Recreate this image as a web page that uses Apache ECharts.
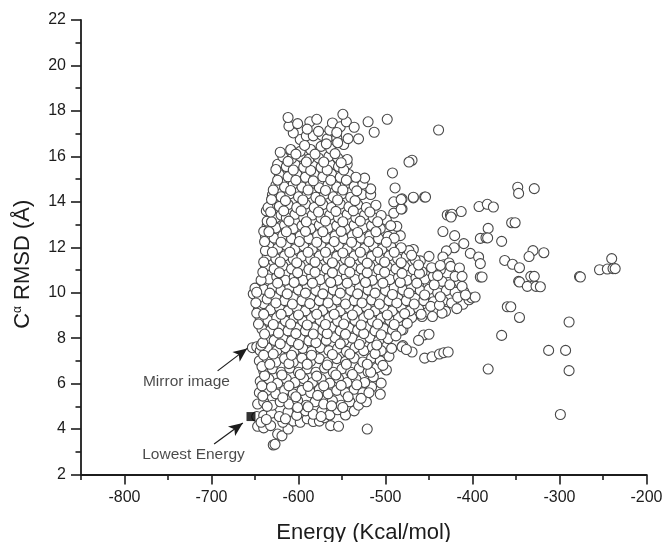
<!DOCTYPE html>
<html><head><meta charset="utf-8">
<style>html,body{margin:0;padding:0;background:#fff}#c{width:665px;height:542px}</style>
<script src="https://cdn.jsdelivr.net/npm/echarts@6/dist/echarts.min.js"></script></head>
<body><div id="c"></div>
<script>
const xMajor=[-800,-700,-600,-500,-400,-300,-200];
const xMinor=[-850,-750,-650,-550,-450,-350,-250];
const yTicks=[2,4,6,8,10,12,14,16,18,20,22];
const lowestEnergy=[[-654.6,4.55]];
// flat lists: energy, rmsd, energy, rmsd ...
const bodyLow=[-629,3.3,-627,3.33,-624,3.78,-619,3.7,-647,4.12,-640,4.05,-632,4.15,-612,4,-618,4.3,-606,4.35,-598,4.3,-590,4.45,-583,4.33,-576,4.35,-570,4.5,-563,4.15,-554,4.12,-521,4,
-648,4.55,-640,4.6,-631,4.7,-622,4.55,-612,4.75,-602,4.6,-592,4.8,-583,4.65,-573,4.8,-564,4.62,-555,4.85,-546,4.62,-536,4.8,
-647,5.1,-640,5.2,-630,5.05,-621,5.2,-611,5.1,-601,5.25,-591,5.05,-581,5.2,-571,5.1,-561,5.25,-551,5.05,-541,5.2,-531,5.05,-522,5.2,-506,5.53,
-645,5.6,-636,5.7,-626,5.55,-616,5.7,-606,5.55,-596,5.7,-586,5.6,-576,5.75,-566,5.55,-556,5.7,-546,5.6,-536,5.75,-526,5.6,-516,5.85,
-644,6.1,-642,5.9,-634,6.2,-624,6.02,-614,6.2,-604,6.05,-594,6.22,-584,6.05,-574,6.2,-564,6.02,-554,6.22,-544,6.05,-534,6.2,-524,6.05,-514,6.3,-505,6.02,
-640,6.55,-630,6.65,-620,6.5,-610,6.68,-600,6.5,-590,6.65,-580,6.5,-570,6.68,-560,6.5,-550,6.65,-540,6.5,-530,6.68,-520,6.52,-510,6.7,-499,6.6,
-645,7,-636,7.1,-626,6.95,-616,7.1,-606,6.95,-596,7.12,-586,6.98,-576,7.1,-566,6.95,-556,7.1,-546,6.98,-536,7.12,-526,6.95,-516,7.12,-506,7,-496,7.2,
-644,7.45,-636,7.58,-625,7.45,-615,7.58,-605,7.42,-595,7.55,-585,7.42,-575,7.58,-565,7.45,-555,7.55,-545,7.42,-535,7.58,-525,7.45,-515,7.6,-505,7.45,-493,7.55,-481,7.62,-476,7.5,
-637,7.98,-628,7.9,-618,8.02,-608,7.88,-598,8,-588,7.88,-578,8.02,-568,7.9,-558,8.02,-548,7.88,-538,8,-528,7.9,-518,8.02,-508,7.88,-497,7.98,-482,8.35,
-642,8.4,-632,8.35,-622,8.45,-612,8.32,-602,8.45,-592,8.32,-582,8.45,-572,8.35,-562,8.48,-552,8.32,-542,8.45,-532,8.35,-522,8.48,-512,8.32,-502,8.42,-492,8.35,
-644,8.85,-635,8.78,-625,8.9,-615,8.75,-605,8.88,-595,8.75,-585,8.9,-575,8.78,-565,8.9,-555,8.75,-545,8.88,-535,8.78,-525,8.9,-515,8.75,-505,8.88,-495,8.78,-485,8.9,-470,8.9,-458,8.95];
const bodyMid=[-646,9.3,-640,9.52,-632,9.25,-622,9.35,-612,9.2,-602,9.33,-592,9.2,-582,9.35,-572,9.22,-562,9.35,-552,9.2,-542,9.33,-532,9.22,-522,9.35,-512,9.2,-502,9.33,-492,9.2,-482,9.35,-472,9.2,-462,9.3,-451,9.15,-441,9.2,-431,9.18,-435,9.1,
-652,9.95,-645,9.8,-636,9.72,-626,9.78,-616,9.65,-606,9.8,-596,9.65,-586,9.78,-576,9.65,-566,9.8,-556,9.68,-546,9.78,-536,9.65,-526,9.8,-516,9.68,-506,9.78,-496,9.65,-486,9.78,-476,9.65,-466,9.75,-456,9.65,-445,9.6,-434,9.65,-424,9.55,-411,9.49,-404,9.69,-401,9.77,-397,9.81,
-644,10.3,-640,10.15,-630,10.22,-620,10.1,-610,10.25,-600,10.12,-590,10.25,-580,10.1,-570,10.22,-560,10.12,-550,10.25,-540,10.1,-530,10.22,-520,10.12,-510,10.25,-500,10.1,-490,10.22,-480,10.12,-470,10.22,-460,10.1,-450,10.15,-440,10,-430,10.1,-420,10.02,-412,10.28,
-634,10.6,-625,10.7,-615,10.55,-605,10.68,-595,10.55,-585,10.7,-575,10.58,-565,10.68,-555,10.55,-545,10.7,-535,10.58,-525,10.68,-515,10.55,-505,10.7,-495,10.58,-485,10.68,-475,10.55,-465,10.65,-455,10.6,-445,10.72,-435,10.5,-420,10.72,-412,10.72,
-638,11.15,-628,11.05,-618,11.18,-608,11.05,-598,11.18,-588,11.02,-578,11.15,-568,11.05,-558,11.18,-548,11.02,-538,11.15,-528,11.05,-518,11.18,-508,11.02,-498,11.15,-488,11.05,-478,11.15,-468,11.02,-458,10.92,-447,11.1,-437,11.2,
-636,11.6,-626,11.5,-616,11.62,-606,11.48,-596,11.6,-586,11.48,-576,11.62,-566,11.5,-556,11.6,-546,11.48,-536,11.62,-526,11.5,-516,11.6,-506,11.48,-496,11.62,-486,11.5,-476,11.6,-466,11.45,
-634,12.05,-624,11.95,-614,12.08,-604,11.92,-594,12.05,-584,11.92,-574,12.08,-564,11.95,-554,12.05,-544,11.92,-534,12.08,-524,11.95,-514,12.05,-504,11.92,-494,12.05,-483,12.51,-487,12.92,-473,11.85,-482,11.98,
-638,12.5,-628,12.4,-618,12.52,-608,12.38,-598,12.5,-588,12.38,-578,12.52,-568,12.4,-558,12.5,-548,12.38,-538,12.52,-528,12.4,-518,12.5,-508,12.38,-497,12.48,-490,12.4,
-636,12.95,-626,12.85,-616,12.98,-606,12.82,-596,12.95,-586,12.82,-576,12.98,-566,12.85,-556,12.95,-546,12.82,-536,12.98,-526,12.85,-516,12.95,-506,12.82,-499,13.2,-494,12.95];
const bodyHigh=[-634,13.6,-631,13.4,-628,13.72,-626,13.3,-620,13.42,-614,13.3,-604,13.45,-594,13.3,-584,13.42,-574,13.28,-564,13.42,-554,13.3,-544,13.45,-534,13.3,-524,13.42,-514,13.3,-505,13.4,
-632,13.85,-622,13.8,-612,13.88,-602,13.75,-592,13.9,-582,13.75,-572,13.88,-562,13.75,-552,13.9,-542,13.78,-532,13.88,-522,13.75,-511,13.85,-490.5,13.5,-482,13.68,-490.5,14,-482,14.1,
-630,14.3,-620,14.22,-610,14.35,-600,14.22,-590,14.35,-580,14.2,-570,14.33,-560,14.22,-550,14.35,-540,14.2,-527,14.32,-517,14.32,-517,14.57,-489,14.61,-468,14.2,-454,14.21,
-626,14.72,-616,14.65,-606,14.78,-596,14.65,-586,14.78,-576,14.62,-566,14.75,-556,14.65,-546,14.78,-536,14.68,-526,14.78,-524,15.04,-492,15.27,
-622,15.2,-612,15.1,-602,15.22,-592,15.08,-582,15.22,-572,15.1,-562,15.22,-552,15.08,-542,15.2,-534,15.08,
-624,15.65,-614,15.55,-604,15.65,-594,15.52,-584,15.65,-574,15.52,-564,15.65,-554,15.55,-544,15.65,
-618,15.98,-608,15.9,-598,16,-588,15.88,-577,15.93,-565,16,-555,15.93,-544,15.86,
-621,16.18,-609,16.3,-598,16.22,-586,16.3,-574,16.44,-563,16.33,-548,16.52,-598,16.74,-591,16.9,-583,16.9,-573,16.92,-567,16.77,-556,16.81,-543,16.78,-531,16.77,
-606,17.03,-564,17.15,-611,17.33,-601,17.44,-612,17.71,-587,17.52,-579,17.63,-561,17.47,-552,17.3,-545,17.52,-549,17.85,-536,17.28,-520,17.52,-498,17.63,-513,17.06];
// irregular overlapping points drawn over the body
const bodyOverlay=[-643,4.3,-637,4.42,-615,4.45,-601,4.95,-589,4.98,-574,4.55,-549,4.95,-636,5,-618,5.38,-603,5.42,-578,5.48,-562,5.02,-543,5.42,-528,5.35,
-641,5.45,-631,5.85,-611,5.9,-589,5.88,-571,5.9,-551,5.92,-533,5.95,-519,5.6,-639,6.35,-619,6.38,-598,6.4,-579,6.33,-557,6.38,-538,6.4,-517,6.5,
-642,6.75,-633,6.85,-611,6.88,-590,6.85,-567,6.82,-545,6.85,-521,6.85,-503,6.8,-640,7.25,-629,7.3,-608,7.25,-585,7.25,-561,7.28,-541,7.3,-512,7.32,-643,7.68,-641,7.8,-621,7.75,-600,7.72,-580,7.8,-552,7.75,-530,7.72,-510,7.7,
-639,8.18,-623,8.22,-603,8.2,-583,8.18,-567,8.2,-546,8.17,-525,8.2,-505,8.15,-488,8.1,-646,8.62,-629,8.6,-609,8.62,-590,8.58,-569,8.6,-548,8.62,-528,8.58,-509,8.62,-490,8.6,-475,8.65,
-648,9.1,-640,9.05,-620,9.05,-600,9.02,-579,9.05,-559,9.05,-538,9.02,-519,9.05,-498,9.02,-478,9.08,-459,9.05,-446,8.95,-649,9.55,-626,9.55,-607,9.5,-587,9.52,-566,9.55,-546,9.5,-527,9.55,-507,9.5,-487,9.55,-467,9.5,-448,9.4,-438,9.45,-418,9.3,
-650,10.2,-648,10.02,-633,9.98,-613,9.95,-592,9.98,-572,9.95,-552,9.98,-532,9.95,-512,9.98,-492,9.92,-473,9.98,-455,9.9,-437,9.82,-417,9.8,-408,9.9,
-643,10.55,-624,10.42,-605,10.45,-584,10.42,-563,10.45,-544,10.42,-523,10.45,-503,10.42,-483,10.45,-464,10.42,-444,10.35,-426,10.35,
-641,10.9,-622,10.88,-601,10.88,-581,10.9,-561,10.88,-541,10.9,-521,10.88,-501,10.9,-481,10.85,-461,10.85,-440,10.75,-640,11.35,-621,11.35,-602,11.32,-581,11.35,-561,11.32,-541,11.35,-521,11.3,-501,11.35,-482,11.32,-462,11.22,
-638,11.85,-630,11.78,-610,11.78,-589,11.78,-569,11.78,-549,11.75,-529,11.78,-509,11.78,-490,11.78,-470,11.65,-639,12.25,-620,12.22,-599,12.25,-579,12.22,-559,12.25,-539,12.22,-519,12.25,-499,12.22,-640,12.7,-634,12.68,-614,12.68,-592,12.7,-572,12.68,-551,12.7,-532,12.65,-511,12.68,
-636,13.15,-631,13.12,-611,13.15,-591,13.12,-569,13.15,-549,13.12,-529,13.15,-509,13.12,-637,13.6,-635,13.75,-632,13.55,-617,13.6,-597,13.6,-577,13.55,-557,13.58,-537,13.6,-518,13.55,
-631,14.1,-615,14.05,-595,14.08,-575,14.05,-555,14.08,-535,14.05,-629,14.52,-609,14.5,-589,14.52,-569,14.5,-549,14.52,-533,14.48,-624,14.95,-603,14.95,-583,14.92,-563,14.95,-545,14.95,-626,15.42,-606,15.4,-586,15.38,-567,15.4,-548,15.4,-612,15.78,-591,15.75,-571,15.75,-551,15.72,-603,16.1,-581,16.1,-558,16.12,-593,16.48,-568,16.55,-555,16.6,-577,17.1,-556,17.05,-590,17.2];
const sparseA=[-439,17.16,-469.5,15.83,-473,15.75,-468,14.17,-455,14.21,-481,14.13,-481,13.69,-348,14.64,-347,14.37,-329,14.58,-392.5,13.79,-383,13.89,-376,13.77,-413,13.57,-429,13.42,-425.4,13.42,-423.5,13.45,-424.7,13.33,-355,13.08,-351,13.08,-434,12.69,-420.5,12.51,-382,12.83,-391,12.39,-384.5,12.42,-382.6,12.41,-366.5,12.26,-410,12.16,-421,11.98,-430,11.84,-402.5,11.73,-393,11.57,-391,11.28,-434,11.57,-433,11.23,-437,11.01,-427,11.31,-425,11.16,-460,11.4,-450,11.6,-468,11.9,-462,10.4,-449,10.9,-428,10.45,-424,10.2,-410,10.05,-415,11.09];
const sparseB=[-330.5,11.85,-318,11.76,-335,11.59,-363,11.42,-354,11.25,-346,11.1,-240,11.5,-254,11.01,-245,11.04,-238.5,11.06,-236,11.06,-277,10.71,-276,10.69,-391,10.69,-389,10.69,-347,10.5,-346,10.47,-333,10.72,-329,10.72,-337,10.28,-327,10.28,-322,10.26,-360,9.38,-356,9.38,-346,8.91,-289,8.71,-366.5,8.12,-312.5,7.46,-293,7.46,-289,6.57,-382,6.64,-299,4.64,-456,8.14,-450,8.17,-462,7.9,-480,8.37,-480,7.67,-469.5,7.39,-455,7.12,-446.5,7.18,-438,7.3,-433,7.36,-428,7.39,-653,7.58,-648,7.62];
const annotationLabels=[{name:'Mirror image',value:[-728.8,6.07]},{name:'Lowest Energy',value:[-720.7,2.86]}];
const arrowEnds=[[[-693,6.56],[-659,7.55]],[[-697,3.34],[-664,4.27]]];

function toPairs(a){const o=[];for(let i=0;i<a.length;i+=2)o.push([a[i],a[i+1]]);return o;}
const ink='#1c1c1c';
const font='"Liberation Sans",Arial,sans-serif';
const chart=echarts.init(document.getElementById('c'),null,{renderer:'canvas'});
chart.setOption({
 animation:false,
 backgroundColor:'#fff',
 grid:{left:81,right:18.5,top:20,bottom:67.5,containLabel:false,outerBoundsMode:'none'},
 xAxis:[{type:'value',min:-850,max:-200,position:'bottom',splitLine:{show:false},
   name:'Energy (Kcal/mol)',nameLocation:'middle',nameGap:47,nameTextStyle:{fontFamily:font,fontSize:22,color:ink},
   axisLine:{onZero:false,lineStyle:{color:ink,width:1.8}},
   axisTick:{show:true,inside:false,length:10,lineStyle:{color:ink,width:1.6},customValues:xMajor},
   axisLabel:{customValues:xMajor,fontFamily:font,fontSize:16,color:ink,margin:15,formatter:v=>String(v)}},
  {type:'value',min:-850,max:-200,position:'bottom',splitLine:{show:false},
   axisLine:{show:false},axisTick:{show:true,length:5.5,lineStyle:{color:ink,width:1.6},customValues:xMinor},axisLabel:{show:false}}],
 yAxis:{type:'value',min:2,max:22,interval:2,splitLine:{show:false},
   name:'{n|C}{s|α}{n| RMSD (Å)}',nameLocation:'middle',nameGap:47,nameRotate:90,
   nameTextStyle:{padding:[0,34,0,0],rich:{n:{fontFamily:font,fontSize:22,color:ink},s:{fontFamily:font,fontSize:12,color:ink,verticalAlign:'top',padding:[0,0,10,0]}}},
   axisLine:{show:true,onZero:false,lineStyle:{color:ink,width:1.8}},
   axisTick:{show:true,length:10,lineStyle:{color:ink,width:1.6}},
   minorTick:{show:true,splitNumber:2,length:5.5,lineStyle:{color:ink,width:1.6}},
   axisLabel:{fontFamily:font,fontSize:16,color:ink,margin:15,customValues:yTicks}},
 series:[
  {type:'scatter',name:'conformations',symbol:'circle',symbolSize:10,large:false,
   data:toPairs(sparseB.concat(sparseA,bodyLow,bodyMid,bodyHigh,bodyOverlay)),
   itemStyle:{color:'#fff',borderColor:'#484848',borderWidth:1.1,opacity:1},silent:true},
  {type:'scatter',name:'lowest',symbol:'rect',symbolSize:9,data:lowestEnergy,itemStyle:{color:'#000'},silent:true},
  {type:'scatter',name:'notes',symbolSize:0,data:annotationLabels,silent:true,
   label:{show:true,position:'inside',formatter:'{b}',fontFamily:font,fontSize:15.5,color:ink},
   markLine:{silent:true,animation:false,symbol:['none','arrow'],symbolSize:[9,14],label:{show:false},
    lineStyle:{color:ink,width:1.2,type:'solid'},
    data:arrowEnds.map(a=>[{coord:a[0]},{coord:a[1]}])}}
 ]
});
</script></body></html>
